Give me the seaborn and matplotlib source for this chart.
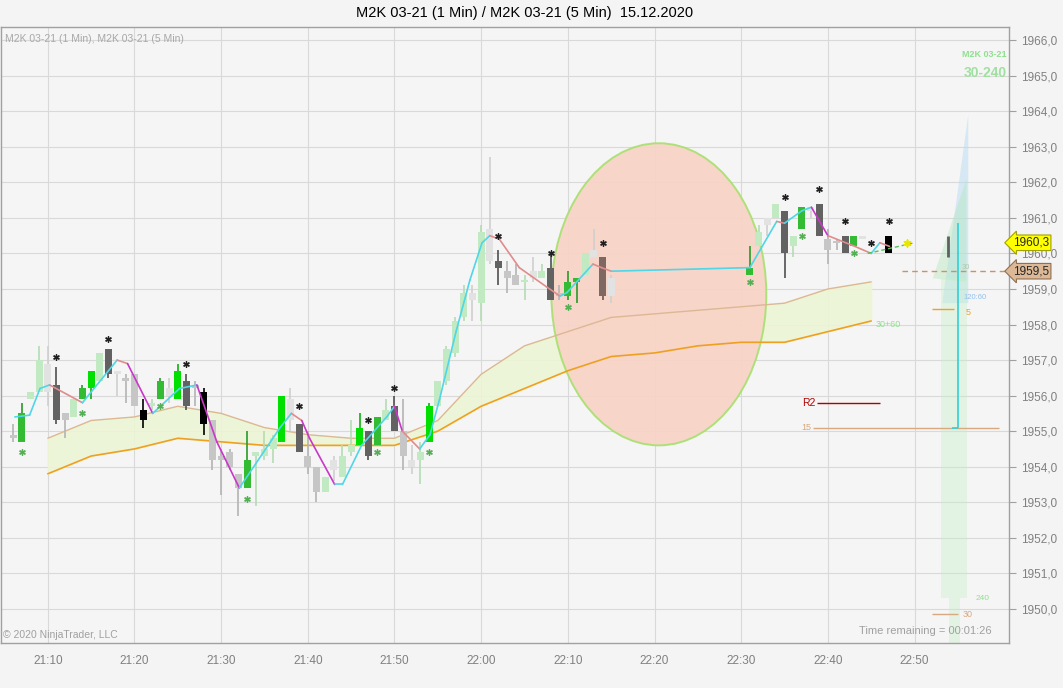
import numpy as np
import pandas as pd
import seaborn as sns
import matplotlib.pyplot as plt
from matplotlib.patches import Ellipse, Polygon
from matplotlib.ticker import FuncFormatter

# 1-minute bars (x = minutes after 21:00)
bar_minute = [6, 7, 8, 9, 10, 11, 12, 13, 14, 15, 16, 17, 18, 19, 20, 21, 22, 23, 24, 25,
              26, 27, 28, 29, 30, 31, 32, 33, 34, 35, 36, 37, 38, 39, 40, 41, 42, 43, 44, 45,
              46, 47, 48, 49, 50, 51, 52, 53, 54, 55, 56, 57, 58, 59, 60, 61, 62, 63, 64, 65,
              66, 67, 68, 69, 70, 71, 72, 73, 74, 75,
              91, 92, 93, 94, 95, 96, 97, 98, 99, 100, 101, 102, 103, 104, 107]
bar_open = [1954.9, 1954.7, 1955.9, 1956.1, 1956.9, 1956.3, 1955.5, 1955.4, 1955.9, 1956.2,
            1956.4, 1957.3, 1956.7, 1956.5, 1956.6, 1955.6, 1955.7, 1955.9, 1956.2, 1955.9,
            1956.4, 1956.3, 1956.1, 1955.3, 1954.3, 1954.4, 1953.8, 1953.4, 1954.3, 1954.3,
            1954.5, 1954.7, 1955.9, 1955.2, 1954.3, 1954.0, 1953.3, 1954.2, 1953.7, 1954.4,
            1954.6, 1955.0, 1954.6, 1955.3, 1955.7, 1955.0, 1954.2, 1954.2, 1954.7, 1955.7,
            1956.4, 1957.2, 1958.2, 1958.9, 1958.6, 1960.7, 1959.8, 1959.5, 1959.4, 1959.2,
            1959.5, 1959.3, 1959.6, 1958.9, 1958.8, 1959.2, 1959.4, 1960.1, 1959.9, 1959.3,
            1959.4, 1960.2, 1961.0, 1961.0, 1961.2, 1960.2, 1960.7, 1961.3, 1961.4, 1960.4,
            1960.3, 1960.5, 1960.2, 1960.5, 1960.5]
bar_high = [1955.2, 1955.8, 1956.1, 1957.4, 1957.4, 1956.8, 1955.5, 1955.9, 1956.3, 1956.7,
            1957.2, 1957.3, 1956.7, 1956.6, 1956.6, 1955.9, 1955.9, 1956.5, 1956.5, 1956.9,
            1956.6, 1956.4, 1956.2, 1955.3, 1954.5, 1954.5, 1953.8, 1955.0, 1954.4, 1955.0,
            1954.9, 1956.0, 1956.2, 1955.2, 1955.0, 1954.0, 1953.7, 1954.3, 1954.6, 1955.3,
            1955.5, 1955.0, 1955.4, 1955.9, 1956.0, 1955.9, 1954.6, 1954.7, 1955.8, 1956.4,
            1957.4, 1958.2, 1959.1, 1959.1, 1960.8, 1962.7, 1960.1, 1959.8, 1959.7, 1959.4,
            1959.9, 1959.7, 1960.0, 1959.1, 1959.5, 1959.3, 1960.0, 1960.7, 1959.9, 1959.4,
            1960.2, 1960.8, 1961.0, 1961.4, 1961.2, 1960.5, 1961.3, 1961.3, 1961.4, 1960.7,
            1960.4, 1960.5, 1960.5, 1960.5, 1960.5]
bar_low = [1954.7, 1954.7, 1955.9, 1956.1, 1955.7, 1955.2, 1954.8, 1955.4, 1955.9, 1955.9,
           1956.4, 1956.5, 1956.0, 1955.8, 1955.7, 1955.1, 1955.6, 1955.9, 1955.8, 1955.9,
           1955.6, 1955.7, 1954.9, 1953.9, 1953.2, 1953.9, 1952.6, 1953.4, 1952.9, 1954.2,
           1954.1, 1954.7, 1955.0, 1954.4, 1953.8, 1953.0, 1953.3, 1953.6, 1953.7, 1954.3,
           1954.6, 1954.2, 1954.6, 1955.3, 1955.0, 1953.9, 1953.8, 1953.5, 1954.7, 1955.7,
           1956.3, 1957.1, 1958.1, 1958.1, 1958.1, 1959.7, 1959.1, 1958.9, 1959.1, 1958.7,
           1959.2, 1959.3, 1958.7, 1958.7, 1958.7, 1958.6, 1959.4, 1959.9, 1958.7, 1958.6,
           1959.4, 1960.2, 1960.5, 1961.0, 1959.3, 1959.9, 1960.7, 1961.0, 1960.5, 1959.7,
           1960.1, 1960.0, 1960.2, 1960.4, 1960.0]
bar_close = [1954.8, 1955.5, 1956.1, 1957.0, 1956.1, 1955.3, 1955.3, 1955.9, 1956.2, 1956.7,
             1957.2, 1956.6, 1956.6, 1956.4, 1955.7, 1955.3, 1955.8, 1956.4, 1956.0, 1956.7,
             1955.7, 1956.2, 1955.2, 1954.2, 1954.2, 1954.0, 1953.4, 1954.2, 1954.4, 1954.5,
             1954.8, 1956.0, 1955.3, 1954.4, 1954.0, 1953.3, 1953.7, 1953.9, 1954.3, 1954.6,
             1955.1, 1954.3, 1955.4, 1955.6, 1955.0, 1954.3, 1954.0, 1954.4, 1955.7, 1956.4,
             1957.3, 1958.1, 1958.9, 1958.7, 1960.6, 1959.8, 1959.6, 1959.3, 1959.1, 1959.25,
             1959.3, 1959.5, 1958.7, 1958.8, 1959.2, 1959.3, 1960.0, 1959.9, 1958.8, 1958.8,
             1959.6, 1960.6, 1960.8, 1961.4, 1960.0, 1960.5, 1961.3, 1961.2, 1960.5, 1960.1,
             1960.3, 1960.0, 1960.5, 1960.4, 1960.0]
bar_state = list('sgllwdslgG' 'ldwssklgwG' 'dskssssgll' 'lGwdsslwll' 'GdgldswlGl'
                 'lllwlwdssl' 'wldsgglwbw' 'glwldlgwdssdgwk')

# moving average of the 1-minute series
ma_minute = [6.2, 7.9, 9.1, 10.2, 14.0, 18.0, 19.2, 22.1, 25.2, 27.2, 29.5, 32.1, 36.8, 38.1,
             39.3, 40.2, 43.1, 44.0, 46.2, 49.1, 50.0, 50.9, 52.9, 54.1, 55.2, 57.1, 58.7,
             60.1, 61.0, 62.1, 64.4, 67.6, 69.1, 69.9, 72.9, 73.9, 75.0, 91.0, 94.1, 95.0,
             97.0, 98.1, 100.0, 103.1, 105.0, 106.0, 107.1]
ma_value = [1955.4, 1955.45, 1956.2, 1956.3, 1955.8, 1957.0, 1956.9, 1955.5, 1956.2, 1956.3,
            1954.7, 1953.4, 1955.1, 1955.5, 1955.3, 1954.8, 1953.5, 1953.5, 1954.6, 1955.4,
            1955.7, 1955.0, 1954.5, 1954.9, 1955.9, 1957.8, 1959.25, 1960.3, 1960.5, 1960.4,
            1959.6, 1959.05, 1958.8, 1958.9, 1959.7, 1959.6, 1959.5, 1959.6, 1960.9, 1960.85,
            1961.2, 1961.3, 1960.5, 1960.2, 1960.0, 1960.3, 1960.2]

# 5-minute envelope
band_minute = list(range(10, 110, 5))
band_upper = [1954.8, 1955.3, 1955.4, 1955.7, 1955.5, 1955.1, 1954.9, 1954.8, 1954.8, 1955.3,
              1956.6, 1957.4, 1957.8, 1958.2, 1958.3, 1958.4, 1958.5, 1958.6, 1959.0, 1959.2]
band_lower = [1953.8, 1954.3, 1954.5, 1954.8, 1954.7, 1954.6, 1954.6, 1954.6, 1954.6, 1955.0,
              1955.7, 1956.2, 1956.7, 1957.1, 1957.2, 1957.4, 1957.5, 1957.5, 1957.8, 1958.1]

# signal markers
top_star_minute = [11, 17, 26, 39, 47, 50, 62, 68, 74, 95, 99, 102, 105, 107]
top_star_price = [1957.1, 1957.6, 1956.9, 1955.7, 1955.3, 1956.2, 1960.5, 1960.0, 1960.3,
                  1961.6, 1961.8, 1960.9, 1960.3, 1960.9]
low_star_minute = [7, 14, 23, 33, 48, 54, 70, 91, 97, 103]
low_star_price = [1954.4, 1955.5, 1955.7, 1953.1, 1954.4, 1954.4, 1958.5, 1959.2, 1960.5,
                  1960.0]

# levels
r2_level = 1955.8
level_15 = 1955.1
level_5 = 1958.45
level_30 = 1949.85
last_price = 1960.3
ref_price = 1959.5
projection_minute = [104.6, 110.0]
projection_price = [1960.0, 1960.3]

body_colors = {'G': '#00e000', 'g': '#33bb33', 'l': '#c2eac2', 'w': '#e2e2e2',
               's': '#c6c6c6', 'd': '#626262', 'k': '#000000', 'b': '#806862'}
wick_colors = {'G': '#10b010', 'g': '#2a9a2a', 'l': '#b4dcb4', 'w': '#cfcfcf',
               's': '#b4b4b4', 'd': '#505050', 'k': '#000000', 'b': '#705650'}

sns.set_style('whitegrid', {'axes.facecolor': '#f5f5f5', 'grid.color': '#d9d9d9',
                            'axes.edgecolor': '#a0a0a0'})
plt.rcParams['font.family'] = ['Liberation Sans', 'DejaVu Sans']

fig = plt.figure(figsize=(10.63, 6.88), dpi=100, facecolor='#f4f4f4')
ax = fig.add_axes([1 / 1063, 45 / 688, 1008 / 1063, 616 / 688])
ax.set_xlim(4.6, 120.9)
ax.set_ylim(1949.04, 1966.37)

bars = pd.DataFrame({'minute': bar_minute, 'open': bar_open, 'high': bar_high,
                     'low': bar_low, 'close': bar_close, 'state': bar_state})
bars['bottom'] = bars[['open', 'close']].min(axis=1)
bars['height'] = (bars['open'] - bars['close']).abs().clip(lower=0.04)

# envelope and ellipse
ax.fill_between(band_minute, band_lower, band_upper, color='#edf5d5', alpha=0.9, zorder=1.1)
ax.add_patch(Ellipse((80.5, 1958.85), 24.8, 8.5, fc='#f8d3c6', ec='#a8e070', lw=1.4,
                     alpha=0.92, zorder=1.2))
band = pd.DataFrame({'minute': band_minute, 'upper': band_upper, 'lower': band_lower})
sns.lineplot(data=band, x='minute', y='upper', color='#dcb894', lw=1, ax=ax, zorder=1.5)
sns.lineplot(data=band, x='minute', y='lower', color='#f0a020', lw=1.2, ax=ax, zorder=1.5)

# right-hand profile shading
ax.add_patch(Polygon([(113.2, 1958.6), (116.2, 1963.9), (116.2, 1958.6)],
                     fc='#b8dcf4', alpha=0.5, lw=0, zorder=1.3))
ax.add_patch(Polygon([(112.1, 1959.3), (116.0, 1962.1), (116.0, 1959.2)],
                     fc='#b0e8b8', alpha=0.4, lw=0, zorder=1.3))
ax.add_patch(Polygon([(113.0, 1959.3), (116.0, 1959.3), (116.0, 1950.3), (113.0, 1950.3)],
                     fc='#c8f0c8', alpha=0.4, lw=0, zorder=1.3))
ax.add_patch(Polygon([(114.0, 1950.3), (115.2, 1950.3), (115.2, 1949.0), (114.0, 1949.0)],
                     fc='#c8f0c8', alpha=0.4, lw=0, zorder=1.3))

# candles
ax.vlines(bars['minute'], bars['low'], bars['high'],
          colors=[wick_colors[s] for s in bars['state']], lw=1.2, zorder=3)
ax.bar(bars['minute'], bars['height'], bottom=bars['bottom'], width=0.8,
       color=[body_colors[s] for s in bars['state']], lw=0, zorder=3.1)

# moving average, coloured by direction
for i in range(len(ma_minute) - 1):
    slope = (ma_value[i + 1] - ma_value[i]) / (ma_minute[i + 1] - ma_minute[i])
    col = '#4fd6e8' if slope >= 0 else ('#c838c8' if slope < -0.4 else '#e08c8c')
    ax.plot(ma_minute[i:i + 2], ma_value[i:i + 2], color=col, lw=1.2, zorder=4)

sns.lineplot(x=projection_minute, y=projection_price, color='#58c058', lw=1,
             linestyle=(0, (3, 2)), ax=ax, zorder=4)

# stars
sns.scatterplot(x=top_star_minute, y=top_star_price, marker=(6, 2, 0), s=16,
                color='#202020', linewidth=1, ax=ax, zorder=5)
sns.scatterplot(x=low_star_minute, y=low_star_price, marker=(6, 2, 0), s=16,
                color='#55b055', linewidth=1, ax=ax, zorder=5)
ax.scatter([109.1], [1960.3], marker=(6, 2, 0), s=24, color='#e6e600', lw=1.2, zorder=5)

# levels and labels
ax.hlines(r2_level, 98.8, 106.0, color='#b00000', lw=1, zorder=4)
ax.text(98.6, r2_level, 'R2', color='#b00000', fontsize=7.5, ha='right', va='center')
ax.hlines(level_15, 98.3, 119.8, color='#d8a880', lw=1, zorder=4)
ax.text(98.1, level_15, '15', color='#d8a880', fontsize=6.5, ha='right', va='center')
ax.hlines(ref_price, 108.6, 120.9, color='#d09060', lw=1, linestyle=(0, (4, 3)), zorder=4)
ax.hlines(level_5, 112.0, 114.6, color='#f0a020', lw=1, zorder=4)
ax.text(115.9, level_5 - 0.12, '5', color='#f0a020', fontsize=6.5, va='center')
ax.hlines(level_30, 112.0, 115.0, color='#d8a880', lw=1, zorder=4)
ax.text(115.6, level_30, '30', color='#d8a880', fontsize=6.5, va='center')
ax.text(117.0, 1950.3, '240', color='#90e090', fontsize=6, va='center')
ax.text(115.7, 1958.75, '120:60', color='#90c0f0', fontsize=5.5, va='center')
ax.text(115.4, 1959.6, '30', color='#b0c8b0', fontsize=5.5, va='center')
ax.text(107.0, 1958.0, '30+60', color='#90e090', fontsize=6.5, ha='center', va='center')
ax.vlines(113.9, 1959.9, 1960.5, color='#606060', lw=2, zorder=4)
ax.vlines(115.0, 1955.1, 1960.85, color='#30d0d8', lw=1.2, zorder=4)
ax.hlines(1955.1, 114.3, 115.0, color='#30d0d8', lw=1.2, zorder=4)

ax.text(0.998, 0.955, 'M2K 03-21', transform=ax.transAxes, color='#90e090', fontsize=6.5,
        fontweight='bold', ha='right', va='center')
ax.text(0.998, 0.925, '30-240', transform=ax.transAxes, color='#a0e0a0', fontsize=10,
        fontweight='bold', ha='right', va='center')
ax.text(0.004, 0.981, 'M2K 03-21 (1 Min), M2K 03-21 (5 Min)', transform=ax.transAxes,
        color='#a8a8a8', fontsize=7.5, va='center')
ax.text(0.002, 0.013, '\u00a9 2020 NinjaTrader, LLC', transform=ax.transAxes,
        color='#a0a0a0', fontsize=7.5, va='center')
ax.text(0.983, 0.02, 'Time remaining = 00:01:26', transform=ax.transAxes,
        color='#a0a0a0', fontsize=8, ha='right', va='center')

# price markers on the axis
ytr = ax.get_yaxis_transform()
ax.text(1.004, last_price, '1960,3', transform=ytr, fontsize=8.5, va='center', zorder=6,
        bbox=dict(boxstyle='larrow,pad=0.15', fc='#ffff00', ec='#a0a000', lw=0.8),
        clip_on=False)
ax.text(1.004, ref_price, '1959,5', transform=ytr, fontsize=8.5, va='center', zorder=6,
        bbox=dict(boxstyle='larrow,pad=0.15', fc='#dcb896', ec='#907050', lw=0.8),
        clip_on=False)

# axes styling
ax.set_xticks(range(10, 111, 10))
ax.set_xticklabels([f'{21 + (m // 60)}:{m % 60:02d}' for m in range(10, 111, 10)])
ax.set_yticks(np.arange(1950, 1967, 1))
ax.yaxis.set_major_formatter(FuncFormatter(lambda v, _: f'{v:.1f}'.replace('.', ',')))
ax.yaxis.tick_right()
ax.tick_params(axis='both', colors='#a0a0a0', labelcolor='#808080', labelsize=8.5,
               length=5, width=0.8)
ax.tick_params(axis='x', pad=4)
ax.grid(True, color='#d9d9d9', lw=0.8)
ax.set_axisbelow(True)
ax.set_xlabel('')
ax.set_ylabel('')
for sp in ax.spines.values():
    sp.set_color('#a0a0a0')
    sp.set_linewidth(1)

fig.text(525 / 1063, 1 - 13 / 688, 'M2K 03-21 (1 Min) / M2K 03-21 (5 Min)  15.12.2020',
         fontsize=10.5, ha='center', va='center', color='#000000')

fig.savefig('out.png', dpi=100, facecolor=fig.get_facecolor())
plt.close(fig)
